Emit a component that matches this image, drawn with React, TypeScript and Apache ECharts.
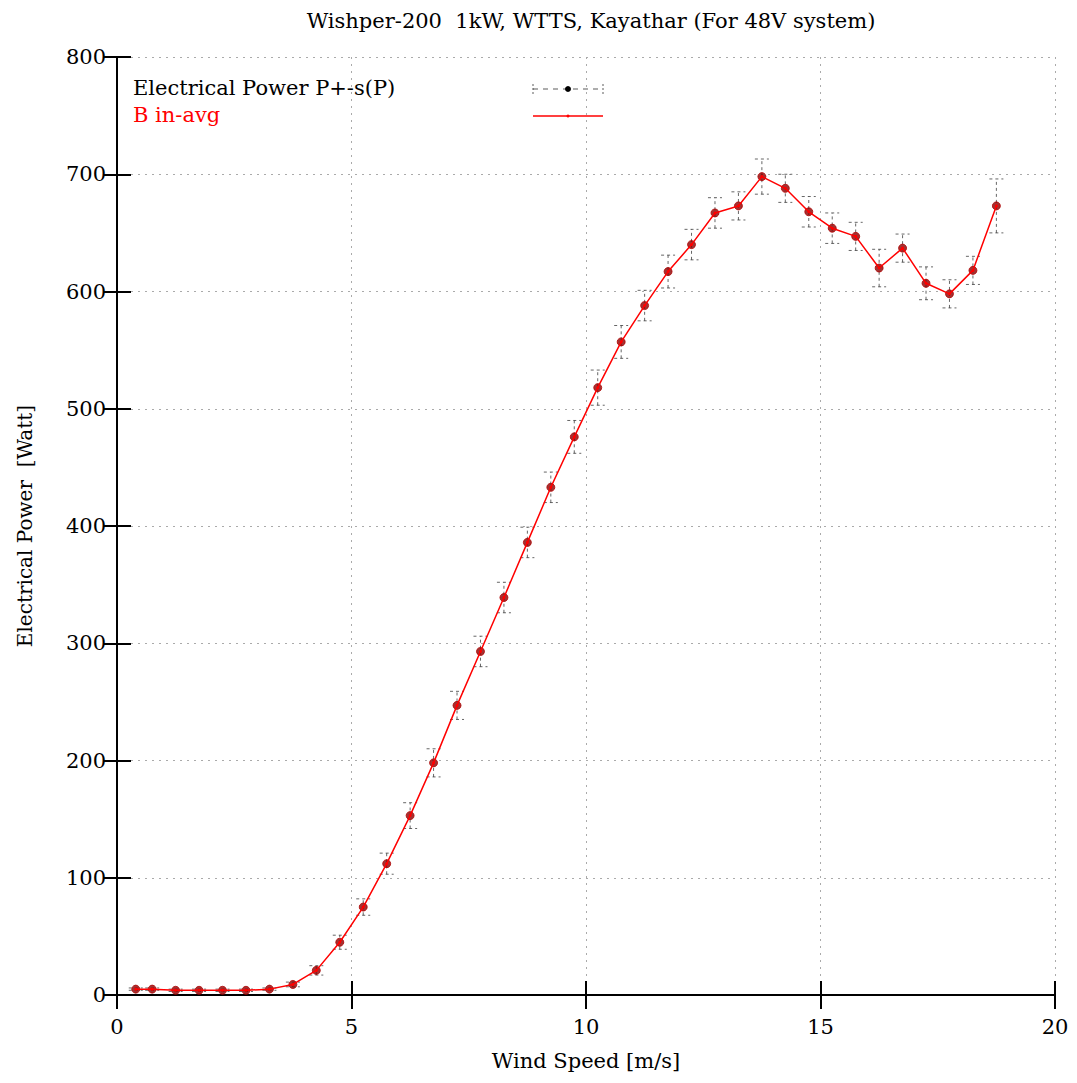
import React, { useEffect, useRef } from "react";
import * as echarts from "echarts";

const windSpeed = [0.4, 0.75, 1.25, 1.75, 2.25, 2.75, 3.25, 3.75, 4.25, 4.75, 5.25, 5.75, 6.25, 6.75, 7.25, 7.75, 8.25, 8.75, 9.25, 9.75, 10.25, 10.75, 11.25, 11.75, 12.25, 12.75, 13.25, 13.75, 14.25, 14.75, 15.25, 15.75, 16.25, 16.75, 17.25, 17.75, 18.25, 18.75];
const power = [5, 5, 4, 4, 4, 4, 5, 9, 21, 45, 75, 112, 153, 198, 247, 293, 339, 386, 433, 476, 518, 557, 588, 617, 640, 667, 673, 698, 688, 668, 654, 647, 620, 637, 607, 598, 618, 673];
const stdev = [1, 1, 1, 1, 1, 1, 1, 2, 4, 6, 7, 9, 11, 12, 12, 13, 13, 13, 13, 14, 15, 14, 13, 14, 13, 13, 12, 15, 12, 13, 13, 12, 16, 12, 14, 12, 12, 23];
const xTicks = [0, 5, 10, 15, 20];
const yTicks = [0, 100, 200, 300, 400, 500, 600, 700, 800];

const titleText = "Wishper-200  1kW, WTTS, Kayathar (For 48V system)";
const xName = "Wind Speed [m/s]";
const yName = "Electrical Power  [Watt]";
const legendNames = ["Electrical Power P+-s(P)", "B in-avg"];

export default function App() {
  const ref = useRef<HTMLDivElement>(null);
  useEffect(() => {
    if (!ref.current) return;
    const chart = echarts.init(ref.current, null, { renderer: "svg" });
    const pts = windSpeed.map((x, i) => [x, power[i]]);
    const errData = windSpeed.map((x, i) => [x, power[i] - stdev[i], power[i] + stdev[i]]);
    const tickFont = { fontFamily: "DejaVu Serif", fontSize: 21, color: "#000" };
    const dash = [3, 3];
    const errColor = "#333";
    chart.setOption({
      animation: false,
      backgroundColor: "#fff",
      title: {
        text: titleText,
        left: 586,
        textAlign: "center",
        top: 5,
        textStyle: { fontFamily: "DejaVu Serif", fontSize: 21, fontWeight: "normal", color: "#000" },
      },
      grid: { left: 117, top: 57, right: 22, bottom: 88, show: false },
      xAxis: [
        {
          type: "value",
          min: xTicks[0],
          max: xTicks[xTicks.length - 1],
          interval: 5,
          position: "bottom",
          name: xName,
          nameLocation: "middle",
          nameGap: 55,
          nameTextStyle: { fontFamily: "DejaVu Serif", fontSize: 21, color: "#000" },
          axisLine: { show: true, lineStyle: { color: "#000", width: 2 } },
          axisTick: { show: true, inside: true, length: 14, lineStyle: { color: "#000", width: 2 } },
          axisLabel: { ...tickFont, margin: 21 },
          splitLine: { show: true, lineStyle: { color: "#aaa", type: [2, 5], width: 1 } },
        },
        {
          type: "value",
          min: xTicks[0],
          max: xTicks[xTicks.length - 1],
          interval: 5,
          position: "top",
          axisLine: { show: true, lineStyle: { color: "#000", width: 2 } },
          axisTick: { show: true, inside: true, length: 14, lineStyle: { color: "#000", width: 2 } },
          axisLabel: { show: false },
          splitLine: { show: false },
        },
      ],
      yAxis: [
        {
          type: "value",
          min: yTicks[0],
          max: yTicks[yTicks.length - 1],
          interval: 100,
          position: "left",
          name: yName,
          nameLocation: "middle",
          nameGap: 82,
          nameRotate: 90,
          nameTextStyle: { fontFamily: "DejaVu Serif", fontSize: 20, color: "#000" },
          axisLine: { show: true, lineStyle: { color: "#000", width: 2 } },
          axisTick: { show: true, inside: true, length: 14, lineStyle: { color: "#000", width: 2 } },
          axisLabel: { ...tickFont, margin: 11 },
          splitLine: { show: true, lineStyle: { color: "#aaa", type: [2, 5], width: 1 } },
        },
        {
          type: "value",
          min: yTicks[0],
          max: yTicks[yTicks.length - 1],
          interval: 100,
          position: "right",
          axisLine: { show: true, lineStyle: { color: "#000", width: 2 } },
          axisTick: { show: true, inside: true, length: 14, lineStyle: { color: "#000", width: 2 } },
          axisLabel: { show: false },
          splitLine: { show: false },
        },
      ],
      series: [
        {
          type: "custom",
          name: legendNames[0],
          xAxisIndex: 0,
          yAxisIndex: 0,
          data: errData,
          z: 2,
          renderItem: (params: any, api: any) => {
            const x = api.value(0);
            const lo = api.coord([x, api.value(1)]);
            const hi = api.coord([x, api.value(2)]);
            const hw = 7;
            const style = { stroke: errColor, lineWidth: 1, lineDash: dash, opacity: 0.75 };
            return {
              type: "group",
              children: [
                { type: "line", shape: { x1: lo[0], y1: lo[1], x2: hi[0], y2: hi[1] }, style },
                { type: "line", shape: { x1: lo[0] - hw, y1: lo[1], x2: lo[0] + hw, y2: lo[1] }, style },
                { type: "line", shape: { x1: hi[0] - hw, y1: hi[1], x2: hi[0] + hw, y2: hi[1] }, style },
              ],
            };
          },
        },
        {
          type: "scatter",
          name: "points",
          data: pts,
          symbol: "circle",
          symbolSize: 8,
          itemStyle: { color: "#8a0000", borderColor: "#b00000", borderWidth: 1 },
          z: 3,
        },
        {
          type: "line",
          name: legendNames[1],
          data: pts,
          showSymbol: true,
          symbol: "circle",
          symbolSize: 3,
          itemStyle: { color: "#ff0000" },
          lineStyle: { color: "#ff0000", width: 1.5 },
          z: 4,
        },
      ],
      graphic: [
        { type: "text", left: 133, top: 77, style: { text: legendNames[0], fontFamily: "DejaVu Serif", fontSize: 21, fill: "#000" } },
        { type: "text", left: 133, top: 104, style: { text: legendNames[1], fontFamily: "DejaVu Serif", fontSize: 21, fill: "#ff0000" } },
        { type: "line", shape: { x1: 533, y1: 89, x2: 603, y2: 89 }, style: { stroke: errColor, lineWidth: 1, lineDash: [5, 5], opacity: 0.8 } },
        { type: "line", shape: { x1: 533, y1: 84, x2: 533, y2: 94 }, style: { stroke: errColor, lineWidth: 1, lineDash: [2, 2], opacity: 0.8 } },
        { type: "line", shape: { x1: 603, y1: 84, x2: 603, y2: 94 }, style: { stroke: errColor, lineWidth: 1, lineDash: [2, 2], opacity: 0.8 } },
        { type: "circle", shape: { cx: 568, cy: 89, r: 3 }, style: { fill: "#000" } },
        { type: "line", shape: { x1: 533, y1: 116, x2: 603, y2: 116 }, style: { stroke: "#ff0000", lineWidth: 1.5 } },
        { type: "circle", shape: { cx: 568, cy: 116, r: 1.5 }, style: { fill: "#ff0000" } },
      ],
    });
    return () => chart.dispose();
  }, []);
  return <div ref={ref} style={{ width: 1077, height: 1083, position: "absolute", left: 0, top: 0 }} />;
}
